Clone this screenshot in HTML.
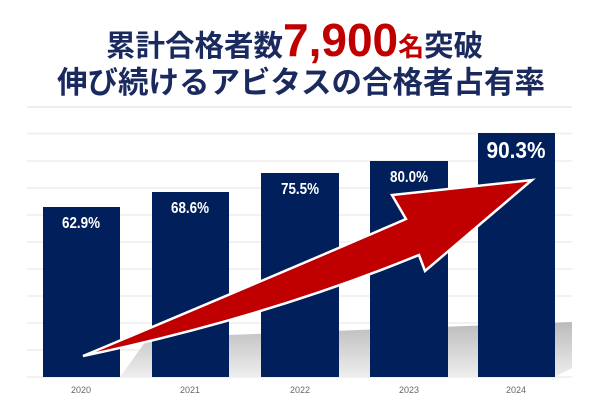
<!DOCTYPE html>
<html><head><meta charset="utf-8"><style>
html,body{margin:0;padding:0;background:#fff;}
body{width:600px;height:410px;position:relative;overflow:hidden;font-family:"Liberation Sans","Noto Sans CJK JP",sans-serif;}
.t{position:absolute;white-space:nowrap;font-weight:bold;color:#1b2a5e;font-family:'Noto Sans CJK JP',sans-serif;}
</style></head><body>
<div class="t" style="top:18px;left:106px;font-size:29.5px;line-height:44px;">累計合格者数<span style="color:#c00000;font-family:'Liberation Sans',sans-serif;font-size:46px;">7,900</span><span style="color:#c00000;font-size:26px;">名</span>突破</div>
<div class="t" style="top:60px;left:57px;font-size:30.5px;line-height:40px;">伸び続けるアビタスの合格者占有率</div>
<svg width="600" height="410" style="position:absolute;left:0;top:0" xmlns="http://www.w3.org/2000/svg">
<defs>
<linearGradient id="sh" x1="0" y1="0" x2="0" y2="1"><stop offset="0" stop-color="#bbb"/><stop offset="1" stop-color="#eee"/></linearGradient>
</defs>
<line x1="27" y1="107" x2="572" y2="107" stroke="#eee" stroke-width="2"/>
<g stroke="#eee" stroke-width="1.5">
<line x1="27" y1="133.5" x2="572" y2="133.5"/><line x1="27" y1="161" x2="572" y2="161"/>
<line x1="27" y1="188" x2="572" y2="188"/><line x1="27" y1="215" x2="572" y2="215"/>
<line x1="27" y1="242" x2="572" y2="242"/><line x1="27" y1="269" x2="572" y2="269"/>
<line x1="27" y1="296" x2="572" y2="296"/><line x1="27" y1="323" x2="572" y2="323"/>
<line x1="27" y1="350" x2="572" y2="350"/><line x1="27" y1="377" x2="572" y2="377"/>
</g>
<polygon points="120,377 148,338 572,322 572,368 555,377" fill="url(#sh)"/>
<g fill="#001f5b">
<rect x="43" y="207" width="77" height="170"/>
<rect x="152" y="192" width="77" height="185"/>
<rect x="261" y="173" width="78" height="204"/>
<rect x="370" y="161" width="78" height="216"/>
<rect x="478" y="133" width="77" height="244"/>
</g>
<g fill="#fff" font-family="Liberation Sans,sans-serif" font-weight="bold" font-size="16" text-anchor="middle">
<text x="81" y="228" textLength="38" lengthAdjust="spacingAndGlyphs">62.9%</text>
<text x="190" y="213" textLength="38" lengthAdjust="spacingAndGlyphs">68.6%</text>
<text x="300" y="194" textLength="38" lengthAdjust="spacingAndGlyphs">75.5%</text>
<text x="409" y="182" textLength="38" lengthAdjust="spacingAndGlyphs">80.0%</text>
<text x="516" y="158" font-size="23" textLength="59" lengthAdjust="spacingAndGlyphs">90.3%</text>
</g>
<g fill="#666" font-family="Liberation Sans,sans-serif" font-size="9" text-anchor="middle">
<text x="81" y="393">2020</text><text x="190" y="393">2021</text><text x="300" y="393">2022</text><text x="409" y="393">2023</text><text x="516" y="393">2024</text>
</g>
<path d="M83,356 Q265,280 406,219 L392,195 L532,180 L425,271 L419,255 Q265,318 83,356 Z" fill="#c00000" stroke="#fff" stroke-width="2.5" stroke-linejoin="miter"/>
</svg>
</body></html>
